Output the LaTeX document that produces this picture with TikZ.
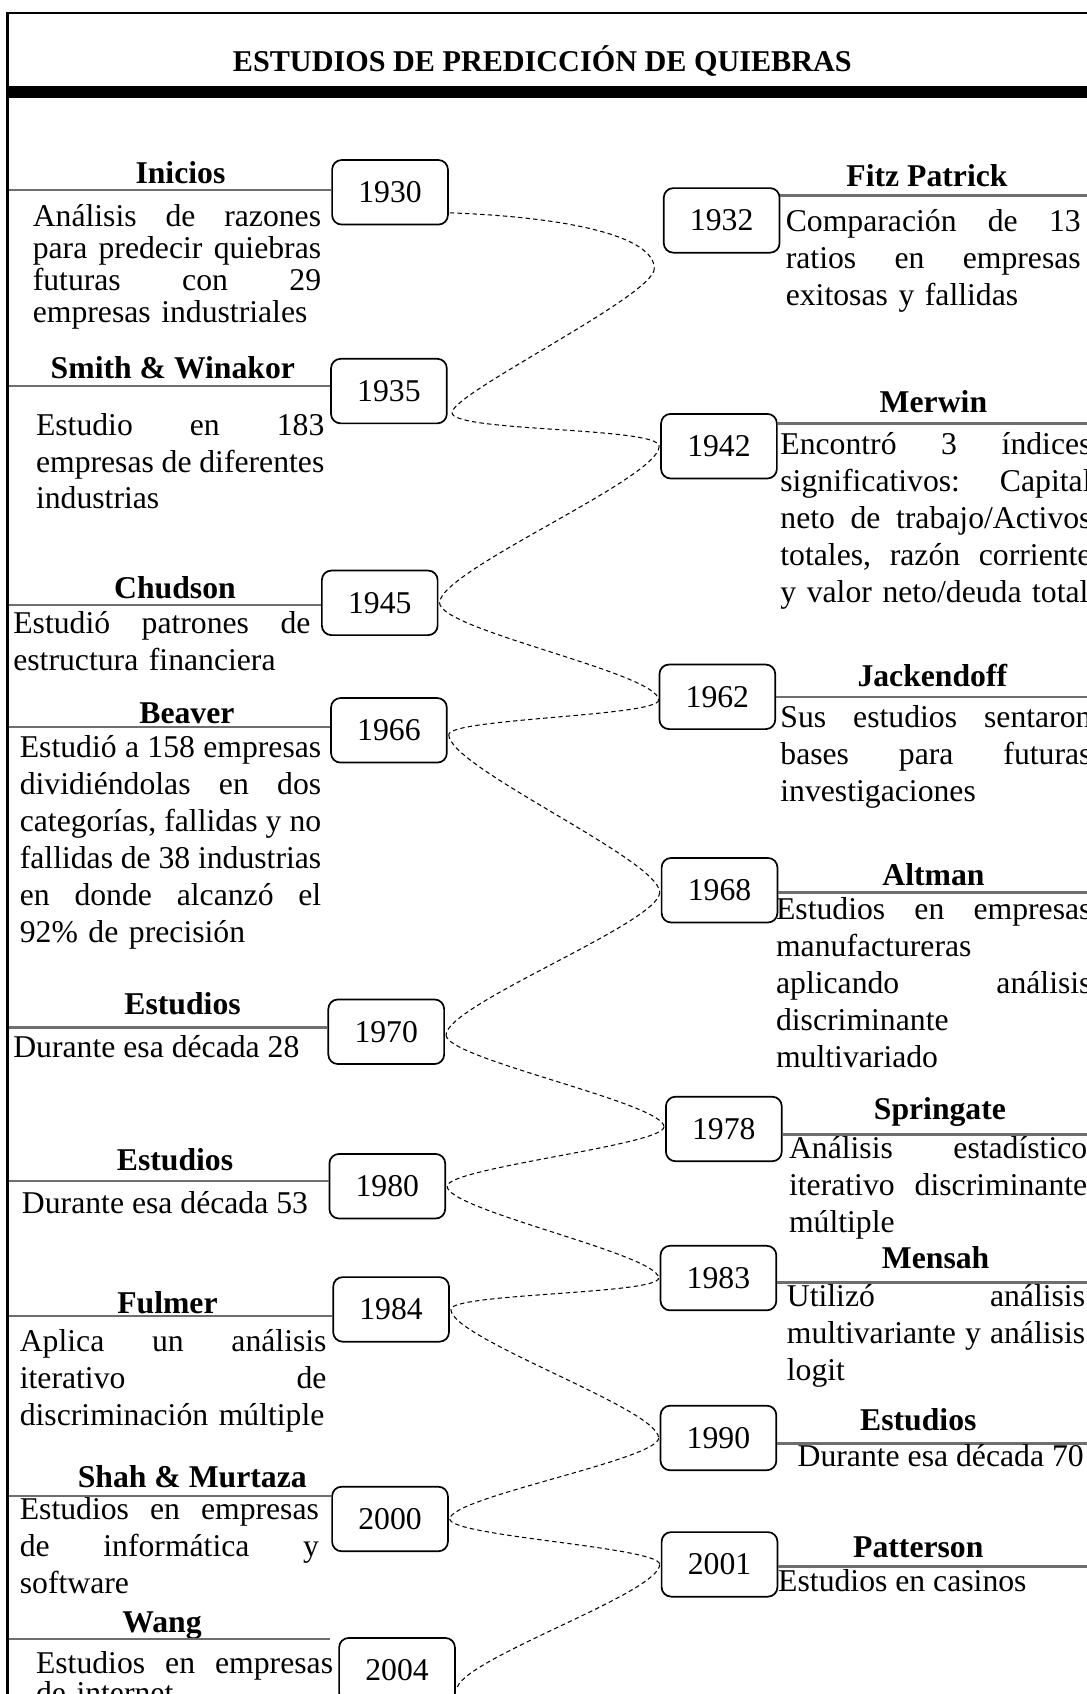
\documentclass[tikz,border=0pt]{standalone}
\usepackage{fontspec}
\setmainfont{Liberation Serif}
\usetikzlibrary{calc}
\definecolor{hl}{RGB}{110,110,110}
\tikzset{
  yearbox/.style={draw=black, line width=0.9pt, rounded corners=5pt, minimum width=61pt, minimum height=34pt, inner sep=0pt, font=\fontsize{16.7}{19}\selectfont},
  headtxt/.style={anchor=base, inner sep=0pt, font=\fontsize{16.7}{19}\selectfont\bfseries},
  bodytxt/.style={anchor=base west, inner sep=0pt, align=left, font=\fontsize{16.7}{19.5}\selectfont},
  hline/.style={draw=hl, line width=1.2pt},
  dashlink/.style={draw=black, line width=0.55pt, dash pattern=on 2.3pt off 1.7pt},
  frameline/.style={draw=black, line width=1.4pt},
}
\begin{document}
\begin{tikzpicture}[x=0.02cm, y=-0.02cm]
\useasboundingbox (0,0) rectangle (1006,1568);
\clip (0,0) rectangle (1006,1568);
\fill[white] (0,0) rectangle (1006,1568);
% frame and title
\draw[frameline] (7,1570) -- (7,12) -- (1010,12);
\fill[black] (7,80) rectangle (1010,91);
\node[anchor=base, inner sep=0pt, font=\fontsize{15.9}{18}\selectfont\bfseries] (title) at (502,66) {ESTUDIOS DE PREDICCIÓN DE QUIEBRAS};

% year boxes
\node[yearbox] (y1930) at (361,178) {1930};
\node[yearbox] (y1932) at (668,204) {1932};
\node[yearbox] (y1935) at (360,362) {1935};
\node[yearbox] (y1942) at (665.5,413) {1942};
\node[yearbox] (y1945) at (351.5,558) {1945};
\node[yearbox] (y1962) at (664,645) {1962};
\node[yearbox] (y1966) at (360,676) {1966};
\node[yearbox] (y1968) at (666,824) {1968};
\node[yearbox] (y1970) at (357.5,955) {1970};
\node[yearbox] (y1978) at (670,1045) {1978};
\node[yearbox] (y1980) at (358.5,1098) {1980};
\node[yearbox] (y1983) at (665,1183) {1983};
\node[yearbox] (y1984) at (362,1212) {1984};
\node[yearbox] (y1990) at (665,1331) {1990};
\node[yearbox] (y2000) at (361,1406) {2000};
\node[yearbox] (y2001) at (666,1448) {2001};
\node[yearbox] (y2004) at (367.5,1546) {2004};

% left headings, lines, texts
\node[headtxt] (hIni) at (167,170) {Inicios};
\draw[hline] (8,176) -- (y1930.west |- 0,176);
\node[bodytxt, text width=151.9pt, font=\fontsize{16.7}{16.8}\selectfont] (tIni) at (30,210) {Análisis\hfill de\hfill razones\\para\hfill predecir\hfill quiebras\\futuras\hfill con\hfill 29\\empresas industriales};

\node[headtxt] (hSmi) at (160,350) {Smith \& Winakor};
\draw[hline] (8,357) -- (y1935.west |- 0,357);
\node[bodytxt, text width=151.9pt, font=\fontsize{16.7}{19.3}\selectfont] (tSmi) at (33,403) {Estudio\hfill en\hfill 183\\empresas\hfill de\hfill diferentes\\industrias};

\node[headtxt] (hChu) at (162,554) {Chudson};
\draw[hline] (8,560) -- (y1945.west |- 0,560);
\node[bodytxt, text width=156.5pt] (tChu) at (12,586) {Estudió\hfill patrones\hfill de\\estructura financiera};

\node[headtxt] (hBea) at (173,670) {Beaver};
\draw[hline] (8,673) -- (y1966.west |- 0,673);
\node[bodytxt, text width=158.8pt] (tBea) at (18,701) {Estudió\hfill a\hfill 158\hfill empresas\\dividiéndolas\hfill en\hfill dos\\categorías,\hfill fallidas\hfill y\hfill no\\fallidas\hfill de\hfill 38\hfill industrias\\en\hfill donde\hfill alcanzó\hfill el\\92\% de precisión};

\node[headtxt] (hE70) at (169,939) {Estudios};
\draw[hline] (8,951) -- (y1970.west |- 0,951);
\node[bodytxt] (tE70) at (12,979) {Durante esa década 28};

\node[headtxt] (hE80) at (162,1083) {Estudios};
\draw[hline] (8,1093) -- (y1980.west |- 0,1093);
\node[bodytxt] (tE80) at (20,1123) {Durante esa década 53};

\node[headtxt] (hFul) at (155,1216) {Fulmer};
\draw[hline] (8,1218) -- (y1984.west |- 0,1218);
\node[bodytxt, text width=161.6pt] (tFul) at (18,1251) {Aplica\hfill un\hfill análisis\\iterativo\hfill de\\discriminación múltiple};

\node[headtxt] (hSha) at (178,1377) {Shah \& Murtaza};
\draw[hline] (8,1385) -- (y2000.west |- 0,1385);
\node[bodytxt, text width=157.6pt] (tSha) at (18,1406) {Estudios\hfill en\hfill empresas\\de\hfill informática\hfill y\\software};

\node[headtxt] (hWan) at (150,1511) {Wang};
\draw[hline] (8,1517) -- ($(y2004.west |- 0,1517)+(-8,0)$);
\node[bodytxt, text width=156.5pt, font=\fontsize{16.7}{15.8}\selectfont] (tWan) at (33,1549) {Estudios\hfill en\hfill empresas\\de internet};

% right headings, lines, texts
\node[headtxt] (hFit) at (858,173) {Fitz Patrick};
\draw[hline] (y1932.east |- 0,181) -- (1010,181);
\node[bodytxt, text width=155.4pt] (tFit) at (727,214) {Comparación\hfill de\hfill 13\\ratios\hfill en\hfill empresas\\exitosas y fallidas};

\node[headtxt] (hMer) at (864,382) {Merwin};
\draw[hline] (y1942.east |- 0,392) -- (1010,392);
\node[bodytxt, text width=163.9pt] (tMer) at (722,421) {Encontró\hfill 3\hfill índices\\significativos:\hfill Capital\\neto\hfill de\hfill trabajo/Activos\\totales,\hfill razón\hfill corriente\\y valor neto/deuda total};

\node[headtxt] (hJac) at (863,635) {Jackendoff};
\draw[hline] (y1962.east |- 0,645) -- (1010,645);
\node[bodytxt, text width=163.9pt] (tJac) at (722,673) {Sus\hfill estudios\hfill sentaron\\bases\hfill para\hfill futuras\\investigaciones};

\node[headtxt] (hAlt) at (864,820) {Altman};
\draw[hline] (y1968.east |- 0,826) -- (1010,826);
\node[bodytxt, text width=166.2pt] (tAlt) at (718,851) {Estudios\hfill en\hfill empresas\\manufactureras\\aplicando\hfill análisis\\discriminante\\multivariado};

\node[headtxt] (hSpr) at (870,1036) {Springate};
\draw[hline] (y1978.east |- 0,1050) -- (1010,1050);
\node[bodytxt, text width=157.1pt] (tSpr) at (730,1072) {Análisis\hfill estadístico\\iterativo\hfill discriminante\\múltiple};

\node[headtxt] (hMen) at (866,1174) {Mensah};
\draw[hline] (y1983.east |- 0,1187) -- (1010,1187);
\node[bodytxt, text width=157.1pt] (tMen) at (728,1209) {Utilizó\hfill análisis\\multivariante\hfill y\hfill análisis\\logit};

\node[headtxt] (hE90) at (850,1324) {Estudios};
\draw[hline] (y1990.east |- 0,1336) -- (1010,1336);
\node[bodytxt] (tE90) at (738,1357) {Durante esa década 70};

\node[headtxt] (hPat) at (850,1442) {Patterson};
\draw[hline] (y2001.east |- 0,1450) -- (1010,1450);
\node[bodytxt] (tPat) at (720,1473) {Estudios en casinos};

% contact points
\coordinate (c1930) at ($(y1930.east)+(1,19)$);
\coordinate (c1932) at ($(y1932.south west)+(-8,14)$);
\coordinate (c1935) at ($(y1935.east)+(4,20)$);
\coordinate (c1942) at ($(y1942.west)+(-1,0)$);
\coordinate (c1945) at ($(y1945.east)+(1,0)$);
\coordinate (c1962) at ($(y1962.west)+(0,3)$);
\coordinate (c1966) at ($(y1966.east)+(1,4)$);
\coordinate (c1968) at ($(y1968.west)+(-1,2)$);
\coordinate (c1970) at ($(y1970.east)+(1,3)$);
\coordinate (c1978) at ($(y1978.west)+(-1,-2)$);
\coordinate (c1980) at ($(y1980.east)+(1,0)$);
\coordinate (c1983) at ($(y1983.west)+(-1,0)$);
\coordinate (c1984) at ($(y1984.east)+(1,0)$);
\coordinate (c1990) at ($(y1990.west)+(-1,0)$);
\coordinate (c2000) at ($(y2000.east)+(1,0)$);
\coordinate (c2001) at ($(y2001.west)+(-1,0)$);
\coordinate (c2004) at ($(y2004.east)+(1,18)$);

% dashed timeline
\draw[dashlink] (c1930) .. controls +(110,4) and +(0,-30) .. (c1932);
\draw[dashlink] (c1932) .. controls +(0,25) and +(0,-18) .. (c1935);
\draw[dashlink] (c1935) .. controls +(0,18) and +(0,-18) .. (c1942);
\draw[dashlink] (c1942) .. controls +(0,30) and +(0,-30) .. (c1945);
\draw[dashlink] (c1945) .. controls +(0,25) and +(0,-25) .. (c1962);
\draw[dashlink] (c1962) .. controls +(0,15) and +(0,-15) .. (c1966);
\draw[dashlink] (c1966) .. controls +(0,30) and +(0,-30) .. (c1968);
\draw[dashlink] (c1968) .. controls +(0,28) and +(0,-28) .. (c1970);
\draw[dashlink] (c1970) .. controls +(0,22) and +(0,-22) .. (c1978);
\draw[dashlink] (c1978) .. controls +(0,17) and +(0,-17) .. (c1980);
\draw[dashlink] (c1980) .. controls +(0,22) and +(0,-22) .. (c1983);
\draw[dashlink] (c1983) .. controls +(0,15) and +(0,-15) .. (c1984);
\draw[dashlink] (c1984) .. controls +(0,27) and +(0,-27) .. (c1990);
\draw[dashlink] (c1990) .. controls +(0,20) and +(0,-20) .. (c2000);
\draw[dashlink] (c2000) .. controls +(0,16) and +(0,-16) .. (c2001);
\draw[dashlink] (c2001) .. controls +(0,27) and +(0,-27) .. (c2004);
\end{tikzpicture}
\end{document}
